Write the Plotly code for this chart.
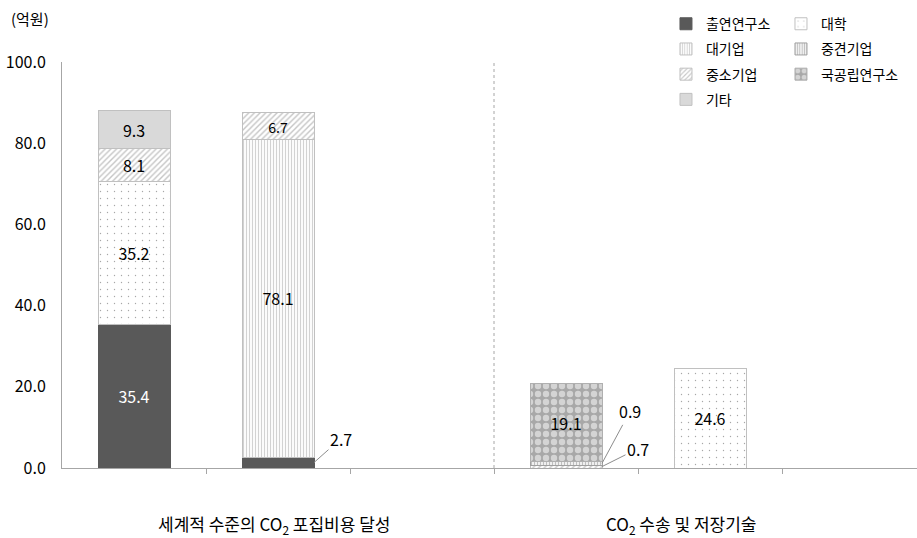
import plotly.graph_objects as go

# ---- data ----
slots = [0, 1, 3, 4]  # bar positions (slot 2 and 5 empty)
series_names = ["출연연구소", "대학", "대기업", "중소기업", "중견기업", "국공립연구소", "기타"]
v_chulyeon = [35.4, 2.7, None, None]
v_daehak = [35.2, None, None, 24.6]
v_daegiup = [None, 78.1, None, None]
v_jungso = [8.1, 6.7, 0.7, None]
v_junggyeon = [None, None, 0.9, None]
v_gukgong = [None, None, 19.1, None]
v_gita = [9.3, None, None, None]
group_labels = ["세계적 수준의 CO<sub>2</sub> 포집비용 달성", "CO<sub>2</sub> 수송 및 저장기술"]
y_ticks = [0, 20, 40, 60, 80, 100]

values = [v_chulyeon, v_daehak, v_daegiup, v_jungso, v_junggyeon, v_gukgong, v_gita]

styles = {
    "출연연구소": dict(color="#595959", line="#595959", shape="", fg="#595959", size=8, sol=0.3, legend="legend", rank=1, tc="white"),
    "대학": dict(color="white", line="#c0c0c0", shape=".", fg="#505050", size=7, sol=0.03, legend="legend2", rank=1, tc="black"),
    "대기업": dict(color="white", line="#c0c0c0", shape="|", fg="#a6a6a6", size=3, sol=0.4, legend="legend", rank=2, tc="black"),
    "중견기업": dict(color="white", line="#a0a0a0", shape="|", fg="#808080", size=3, sol=0.5, legend="legend2", rank=2, tc="black"),
    "중소기업": dict(color="white", line="#c0c0c0", shape="/", fg="#8c8c8c", size=4, sol=0.35, legend="legend", rank=3, tc="black"),
    "국공립연구소": dict(color="#a8a8a8", line="#b0b0b0", shape=".", fg="white", size=8, sol=0.5, legend="legend2", rank=3, tc="black"),
    "기타": dict(color="#d9d9d9", line="#c0c0c0", shape="", fg="#d9d9d9", size=8, sol=0.3, legend="legend", rank=4, tc="black"),
}

FONT = "Noto Sans CJK KR"
fig = go.Figure()
for name, vals in zip(series_names, values):
    s = styles[name]
    texts = [("%.1f" % v) if (v is not None and v >= 3) else "" for v in vals]
    fig.add_trace(go.Bar(
        x=slots, y=vals, name=name, width=0.5,
        text=texts, textposition="inside", insidetextanchor="middle", textangle=0,
        textfont=dict(family=FONT, size=16, color=s["tc"]),
        marker=dict(color=s["color"], line=dict(color=s["line"], width=1),
                    pattern=dict(shape=s["shape"], fgcolor=s["fg"], bgcolor=s["color"],
                                 size=s["size"], solidity=s["sol"], fillmode="overlay")),
        legend=s["legend"], legendrank=s["rank"], legendgroup=name,
        hoverinfo="skip",
    ))

# leader-line labels for small segments
small = []
small.append((slots[1], v_chulyeon[1] / 2, v_chulyeon[1], 27, -24))
small.append((slots[2], v_jungso[2] + v_junggyeon[2] / 2, v_junggyeon[2], 28, -52))
small.append((slots[2], v_jungso[2] / 2, v_jungso[2], 36, -18))
for xs, yv, val, ax, ay in small:
    fig.add_annotation(x=xs + 0.25, y=yv, xref="x", yref="y", text="%.1f" % val,
                       showarrow=True, arrowhead=0, arrowwidth=1, arrowcolor="#8c8c8c",
                       ax=ax, ay=ay, font=dict(family=FONT, size=16, color="black"))

# group labels
for gx, lab in zip([0.97, 3.8], group_labels):
    fig.add_annotation(x=gx, y=0, xref="x", yref="paper", yshift=-56, yanchor="middle",
                       text=lab, showarrow=False,
                       font=dict(family=FONT, size=17, color="black"))

fig.add_annotation(x=-0.037, y=1, xref="paper", yref="paper", yshift=44, text="(억원)",
                   showarrow=False, xanchor="center", yanchor="middle",
                   font=dict(family=FONT, size=15, color="black"))

# divider
fig.add_shape(type="line", x0=2.5, x1=2.5, y0=0, y1=100, xref="x", yref="y",
              line=dict(color="#a6a6a6", width=1, dash="3px,3px"))

fig.update_layout(
    width=917, height=538,
    margin=dict(l=62, r=0, t=62, b=70),
    paper_bgcolor="white", plot_bgcolor="white",
    barmode="stack",
    font=dict(family=FONT, size=16, color="black"),
    xaxis=dict(range=[-0.5, -0.5 + 855 / 144], showgrid=False, zeroline=False,
               showline=True, linecolor="#a6a6a6", linewidth=1,
               tickvals=[0.5, 1.5, 2.5, 3.5, 4.5], ticktext=[""] * 5,
               ticks="outside", ticklen=5, tickcolor="#a6a6a6"),
    yaxis=dict(range=[0, 100], tickvals=y_ticks, tickformat=".1f", showgrid=False,
               zeroline=False, showline=True, linecolor="#a6a6a6", linewidth=1,
               ticks="", ticklabelstandoff=12, tickfont=dict(size=16)),
    legend=dict(x=0.7064, y=1.1326, xanchor="left", yanchor="top", bgcolor="rgba(0,0,0,0)",
                font=dict(family=FONT, size=14), traceorder="grouped", tracegroupgap=4,
                itemwidth=30),
    legend2=dict(x=0.8409, y=1.1326, xanchor="left", yanchor="top", bgcolor="rgba(0,0,0,0)",
                 font=dict(family=FONT, size=14), traceorder="grouped", tracegroupgap=4,
                 itemwidth=30),
)

fig.write_html("out.html")
